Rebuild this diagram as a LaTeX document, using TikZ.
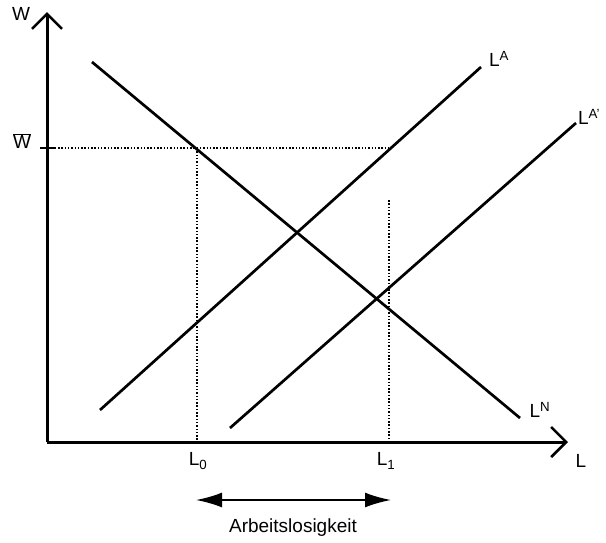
\documentclass[tikz,border=0pt]{standalone}
\usepackage{fontspec}
\setmainfont{Liberation Sans}
\usetikzlibrary{arrows.meta}
\begin{document}
\begin{tikzpicture}[x=1pt,y=-1pt,
  axis/.style={line width=3pt,-{Straight Barb[length=15pt,width=30pt,line width=2.6pt]}},
  curve/.style={line width=2.7pt},
  guide/.style={line width=1.2pt,dash pattern=on 1.5pt off 1.8pt},
  lbl/.style={inner sep=0pt,font=\fontsize{19}{19}\selectfont},
  span/.style={line width=2pt,{Latex[length=26pt,width=15pt]}-{Latex[length=26pt,width=15pt]}}]
\useasboundingbox (0,0) rectangle (606,542);
% axes
\coordinate (o) at (47,442);
\coordinate (ytip) at (47,12);
\coordinate (xtip) at (568,442);
\draw[axis] (o) -- (ytip);
\draw[axis] (o) -- (xtip);
% W bar tick
\coordinate (tl) at (40,148);
\coordinate (tr) at (56,148);
\draw[line width=2.6pt] (tl) -- (tr);
% curves
\coordinate (n1) at (92,62);
\coordinate (n2) at (520,418);
\coordinate (a1) at (100,410);
\coordinate (a2) at (481,67);
\coordinate (b1) at (230,428);
\coordinate (b2) at (576,123);
\draw[curve] (n1) -- (n2);
\draw[curve] (a1) -- (a2);
\draw[curve] (b1) -- (b2);
% guides
\coordinate (h1) at (58,148);
\coordinate (h2) at (389,148);
\coordinate (p0) at (197,148);
\coordinate (q0) at (197,441);
\coordinate (p1) at (389,200);
\coordinate (q1) at (389,441);
\draw[guide] (h1) -- (h2);
\draw[guide] (p0) -- (q0);
\draw[guide] (p1) -- (q1);
% labels
\node[lbl] (W) at (21,14) {W};
\node[lbl] (Wbar) at (22,141) {$\overline{\mbox{W}}$};
\node[lbl] (L0) at (198,461) {L\textsubscript{0}};
\node[lbl] (L1) at (386,461) {L\textsubscript{1}};
\node[lbl] (L) at (581,461) {L};
\node[lbl] (LA) at (499,59) {L\textsuperscript{A}};
\node[lbl] (LAp) at (589,117) {L\textsuperscript{A'}};
\node[lbl] (LN) at (540,410) {L\textsuperscript{N}};
% unemployment span
\coordinate (s1) at (196,500);
\coordinate (s2) at (391,500);
\draw[span] (s1) -- (s2);
\node[inner sep=0pt,font=\fontsize{19}{19}\selectfont] (arb) at (293,528) {Arbeitslosigkeit};
\end{tikzpicture}
\end{document}
